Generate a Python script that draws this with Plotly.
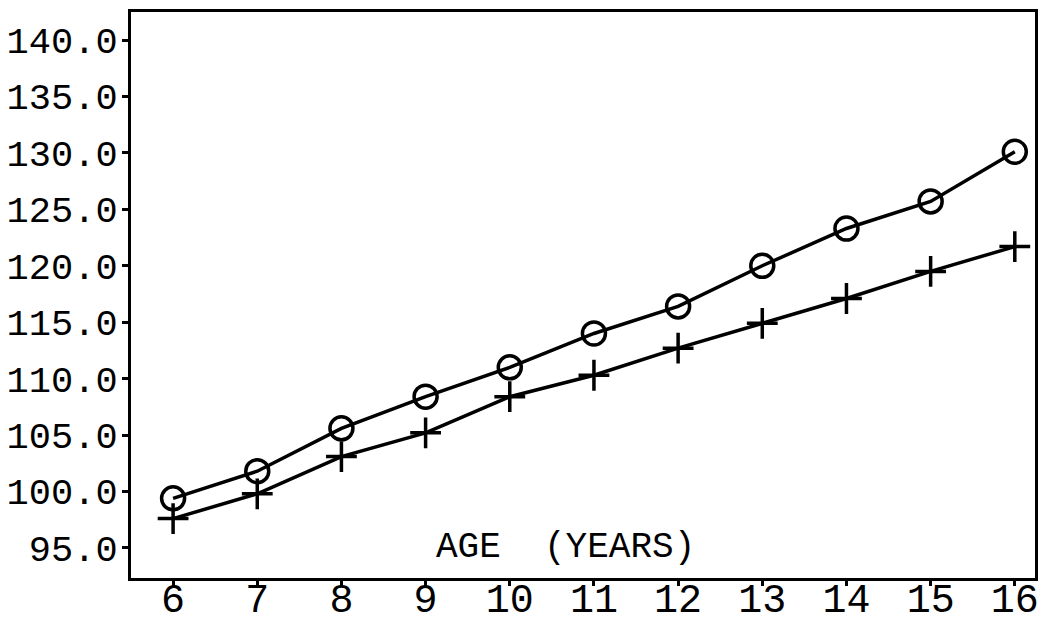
import plotly.graph_objects as go

ages = [6, 7, 8, 9, 10, 11, 12, 13, 14, 15, 16]
circle_series = [99.4, 101.8, 105.6, 108.4, 111.0, 114.0, 116.4, 120.0, 123.3, 125.7, 130.1]
plus_series = [97.6, 99.8, 103.1, 105.2, 108.4, 110.3, 112.7, 114.9, 117.1, 119.5, 121.7]
y_ticks = [95, 100, 105, 110, 115, 120, 125, 130, 135, 140]
y_tick_labels = ["95.0", "100.0", "105.0", "110.0", "115.0", "120.0", "125.0", "130.0", "135.0", "140.0"]
x_title = "AGE  (YEARS)"

FONT = "Liberation Mono"

fig = go.Figure()
fig.add_trace(go.Scatter(
    x=ages, y=circle_series, mode="lines+markers",
    line=dict(color="black", width=3.5),
    marker=dict(symbol="circle-open", size=23, color="black", line=dict(width=3.5)),
    showlegend=False,
))
fig.add_trace(go.Scatter(
    x=ages, y=plus_series, mode="lines+markers",
    line=dict(color="black", width=3.5),
    marker=dict(symbol="cross-thin-open", size=22, color="black", line=dict(width=3.5)),
    showlegend=False,
))

fig.update_layout(
    width=1051, height=627,
    margin=dict(l=123, r=24, t=4, b=57),
    paper_bgcolor="white", plot_bgcolor="white",
    font=dict(family=FONT, color="black"),
    xaxis=dict(
        range=[5.5, 16.24], tickvals=ages, ticktext=[str(a) for a in ages],
        showgrid=False, zeroline=False, showline=True, linecolor="black", linewidth=3,
        mirror=True, ticks="outside", ticklen=5, tickwidth=3, tickcolor="black",
        tickfont=dict(family=FONT, size=40), automargin=False, ticklabelstandoff=-22,
    ),
    yaxis=dict(
        range=[92.34, 142.48], tickvals=y_ticks, ticktext=y_tick_labels,
        showgrid=False, zeroline=False, showline=True, linecolor="black", linewidth=3,
        mirror=True, ticks="outside", ticklen=6, tickwidth=3, tickcolor="black",
        tickfont=dict(family=FONT, size=37), ticklabelstandoff=-3, automargin=False,
    ),
    annotations=[dict(
        text=x_title, x=10.66, y=95.0, xref="x", yref="y", showarrow=False,
        font=dict(family=FONT, size=36, color="black"), xanchor="center", yanchor="middle",
    )],
)

fig.write_html("out.html")
